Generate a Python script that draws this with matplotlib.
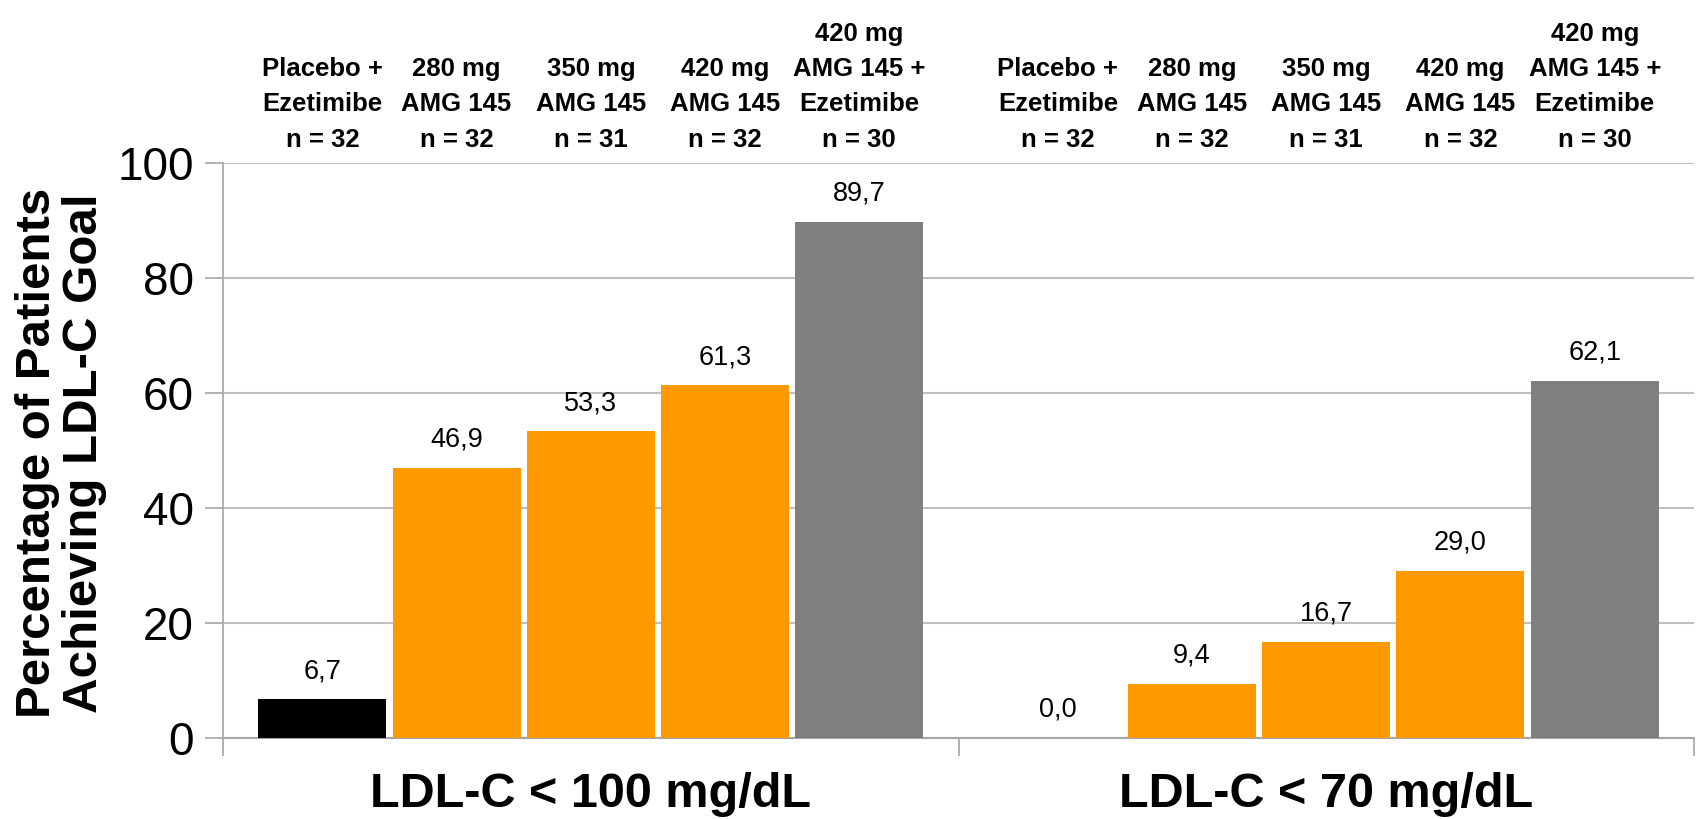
import matplotlib
matplotlib.use("Agg")
import matplotlib.pyplot as plt
import numpy as np

categories = ["LDL-C < 100 mg/dL", "LDL-C < 70 mg/dL"]
series_names = ["Placebo +\nEzetimibe", "280 mg\nAMG 145", "350 mg\nAMG 145",
                "420 mg\nAMG 145", "420 mg\nAMG 145 +\nEzetimibe"]
series_n = [32, 32, 31, 32, 30]
values = {
    "Placebo +\nEzetimibe": [6.7, 0.0],
    "280 mg\nAMG 145": [46.9, 9.4],
    "350 mg\nAMG 145": [53.3, 16.7],
    "420 mg\nAMG 145": [61.3, 29.0],
    "420 mg\nAMG 145 +\nEzetimibe": [89.7, 62.1],
}
colors = ["#000000", "#FF9900", "#FF9900", "#FF9900", "#7F7F7F"]
yticks = [0, 20, 40, 60, 80, 100]
ylabel = "Percentage of Patients\nAchieving LDL-C Goal"

SANS = ["Liberation Sans", "DejaVu Sans"]

fig = plt.figure(figsize=(17.03, 8.19), dpi=100)
ax = fig.add_axes([0.131, 0.099, 0.8637, 0.702])

x = np.arange(len(categories))
step = 0.1825
width = 0.174
for i, name in enumerate(series_names):
    off = (i - 2) * step
    vals = values[name]
    ax.bar(x + off, vals, width=width, color=colors[i], zorder=3)
    for xi, v in zip(x + off, vals):
        ax.annotate(f"{v:.1f}".replace(".", ","), (xi, v), xytext=(0, 11),
                    textcoords="offset points", ha="center", va="bottom",
                    fontsize=19.5, family=SANS)
        ax.annotate(f"{name}\nn = {series_n[i]}", (xi, 1.0),
                    xycoords=("data", "axes fraction"), xytext=(0, 8),
                    textcoords="offset points", ha="center", va="bottom",
                    fontsize=18.5, fontweight="bold", family=SANS,
                    linespacing=1.6, annotation_clip=False)

ax.set_xlim(-0.5, 1.5)
ax.set_ylim(0, 100)
ax.set_yticks(yticks)
ax.set_yticklabels([str(t) for t in yticks], fontsize=33, family=SANS)
ax.yaxis.grid(True, color="#BFBFBF", linewidth=1.5, zorder=0)
ax.set_axisbelow(True)
ax.tick_params(axis="y", length=13, width=1.2, color="#A6A6A6", pad=8)

ax.set_xticks([-0.5, 0.5, 1.5])
ax.set_xticklabels(["", "", ""])
ax.tick_params(axis="x", length=13, width=1.2, color="#A6A6A6")
for xi, c in zip(x, categories):
    ax.annotate(c, (xi, 0), xycoords=("data", "axes fraction"), xytext=(0, -50),
                textcoords="offset points", ha="center", va="baseline",
                fontsize=35, fontweight="bold", family=SANS, annotation_clip=False)

for s in ["top", "right"]:
    ax.spines[s].set_visible(False)
ax.spines["left"].set_color("#A6A6A6")
ax.spines["bottom"].set_color("#A6A6A6")
ax.spines["left"].set_linewidth(1.2)
ax.spines["bottom"].set_linewidth(1.5)

fig.text(0.036, 0.447, ylabel, rotation=90, ha="center", va="center",
         fontsize=35.5, fontweight="bold", family=SANS, linespacing=1.05)

fig.savefig("out.png", dpi=100)
